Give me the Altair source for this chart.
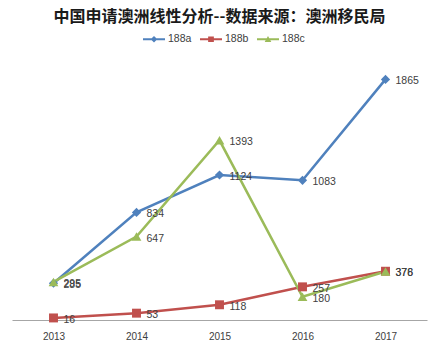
import altair as alt
import pandas as pd

years = ["2013", "2014", "2015", "2016", "2017"]
series_names = ["188a", "188b", "188c"]
vals_a = [285, 834, 1124, 1083, 1865]
vals_b = [16, 53, 118, 257, 378]
vals_c = [295, 647, 1393, 180, 376]
colors = ["#4F81BD", "#C0504D", "#9BBB59"]
title_text = "中国申请澳洲线性分析--数据来源：澳洲移民局"

rows = []
for name, vals in zip(series_names, [vals_a, vals_b, vals_c]):
    for y, v in zip(years, vals):
        rows.append({"year": y, "series": name, "value": v})
df = pd.DataFrame(rows)

x_enc = alt.X("year:O", sort=years,
              scale=alt.Scale(type="point", padding=0.5),
              axis=alt.Axis(title=None, labelAngle=0, ticks=False, domainColor="#A6A6A6",
                            domainWidth=1.2, labelColor="#404040", labelFont="Liberation Sans",
                            labelFontSize=10, labelPadding=11, grid=False))
y_enc = alt.Y("value:Q", scale=alt.Scale(domain=[0, 2000], nice=False), axis=None)

base = alt.Chart(df)

shapes = ["diamond", "square", "triangle-up"]
sizes = [85, 80, 95]
line_layers = []
point_layers = []
for name, col, shp, sz in zip(series_names, colors, shapes, sizes):
    sub = base.transform_filter(alt.datum.series == name)
    line_layers.append(sub.mark_line(strokeWidth=2.5, color=col).encode(x=x_enc, y=y_enc))
    point_layers.append(
        sub.mark_point(shape=shp, filled=True, size=sz, opacity=1, color=col)
        .encode(x=x_enc, y=y_enc)
    )

legend_paths = [
    "M-1,-0.08H1V0.08H-1Z M0,-0.3L0.3,0L0,0.3L-0.3,0Z",
    "M-1,-0.08H1V0.08H-1Z M-0.26,-0.26H0.26V0.26H-0.26Z",
    "M-1,-0.08H1V0.08H-1Z M0,-0.3L0.3,0.24H-0.3Z",
]
legend_layer = base.transform_filter("false").mark_point(filled=True, opacity=1).encode(
    x=x_enc, y=y_enc,
    color=alt.Color("series:N", scale=alt.Scale(domain=series_names, range=colors),
                    legend=alt.Legend(title=None, orient="none", direction="horizontal",
                                      legendX=131, legendY=-34, symbolSize=484,
                                      labelFont="Liberation Sans", labelFontSize=10.5,
                                      labelColor="#404040", labelOffset=3, columnPadding=8,
                                      symbolStrokeWidth=0)),
    shape=alt.Shape("series:N", scale=alt.Scale(domain=series_names, range=legend_paths)),
)

labels = base.mark_text(align="left", baseline="middle", dx=10, dy=2,
                        font="Liberation Sans", fontSize=10.5, color="#404040").encode(
    x=x_enc, y=y_enc, text="value:Q")

chart = alt.layer(*line_layers, *point_layers, legend_layer, labels).properties(
    width=415, height=258,
    autosize=alt.AutoSizeParams(type="none"),
    padding={"left": 12, "top": 62, "right": 17, "bottom": 33},
    title=alt.TitleParams(title_text, font="Noto Sans CJK SC", fontSize=16, fontWeight="bold",
                          color="#1a1a1a", anchor="middle", offset=3),
).configure_view(stroke=None)

chart.save("out.html", embed_options={"renderer": "svg", "actions": False})
